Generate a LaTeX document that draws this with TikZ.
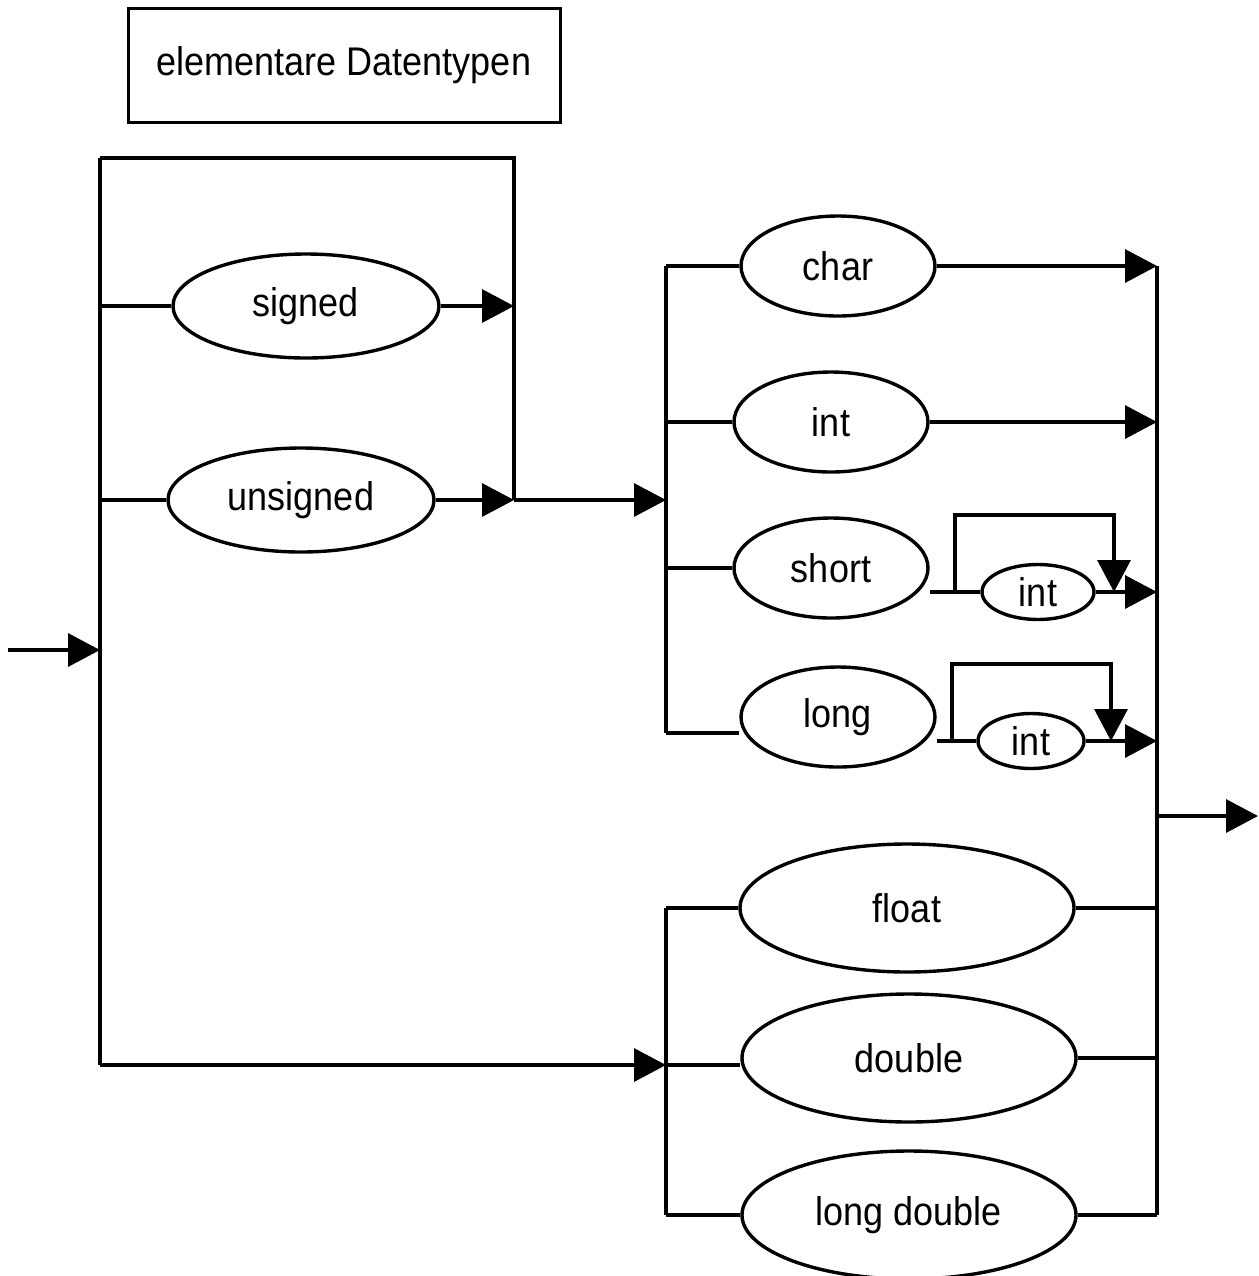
\documentclass[tikz,border=0pt]{standalone}
\usepackage{fontspec}
\setmainfont{Liberation Sans}[FakeStretch=0.9]
\usetikzlibrary{shapes.geometric,arrows.meta}
\newcommand{\diafont}{\fontsize{20}{24}\selectfont}

\begin{document}
\begin{tikzpicture}[x=0.5pt, y=-0.5pt, line width=1.7pt,
    term/.style={draw, ellipse, inner sep=0pt, font=\diafont},
    termL/.style={term, minimum width=133pt, minimum height=52pt},
    termM/.style={term, minimum width=97pt, minimum height=50pt},
    termS/.style={term, minimum width=56pt, minimum height=27.5pt},
    termW/.style={term, minimum width=167pt, minimum height=64pt},
    arr/.style={-{Triangle[length=16pt,width=16.5pt]}}]
  \useasboundingbox (0,0) rectangle (1259,1276);

  \node[draw, line width=1.5pt, minimum width=216pt, minimum height=57pt,
    font=\diafont] (title) at (344,65) {elementare Datentypen};

  % sign
  \node[termL] (signed) at (306,306) {signed};
  \node[termL] (unsigned) at (301,500) {unsigned};
  % integer types
  \node[termM] (char) at (838,266) {char};
  \node[termM] (int) at (831,422) {int};
  \node[termM] (short) at (831,568) {short};
  \node[termM] (long) at (838,717) {long};
  \node[termS] (sint) at (1038,592) {int};
  \node[termS, minimum width=53pt] (lint) at (1031,741) {int};
  % floating types
  \node[termW] (float) at (907,908) {float};
  \node[termW] (double) at (909,1058) {double};
  \node[termW] (ldouble) at (909,1215) {long double};

  \coordinate (start) at (8,650);
  \coordinate (a1) at (100,158);
  \coordinate (a2) at (100,1065);
  \coordinate (b1) at (514,158);
  \coordinate (b2) at (514,500);
  \coordinate (c1) at (666,266);
  \coordinate (c2) at (666,733);
  \coordinate (d1) at (666,908);
  \coordinate (d2) at (666,1215);
  \coordinate (e1) at (1157,266);
  \coordinate (e2) at (1157,1215);
  \coordinate (e3) at (1157,816);
  \coordinate (out) at (1258,816);
  \coordinate (s1) at (955,515);
  \coordinate (s2) at (1114,515);
  \coordinate (l1) at (952,664);
  \coordinate (l2) at (1111,664);

  \draw (a1) -- (a2);
  \draw[arr] (start) -- (start -| a1);
  \draw (a1) -- (b1) -- (b2);
  \draw (signed.west -| a1) -- (signed.west);
  \draw[arr] (signed.east) -- (signed.east -| b1);
  \draw (unsigned.west -| a1) -- (unsigned.west);
  \draw[arr] (unsigned.east) -- (b2);
  \draw[arr] (b2) -- (b2 -| c1);

  \draw (c1) -- (c2);
  \draw (c1) -- (char.west);
  \draw[arr] (char.east) -- (e1);
  \draw (int.west -| c1) -- (int.west);
  \draw[arr] (int.east) -- (int.east -| e1);
  \draw (short.west -| c1) -- (short.west);
  \draw (short.east |- sint.west) -- (sint.west);
  \draw[arr] (s1 |- sint.west) -- (s1) -- (s2) -- (s2 |- sint.east);
  \draw[arr] (sint.east) -- (sint.east -| e1);
  \draw (c2) -- (long.west |- c2);
  \draw (long.east |- lint.west) -- (lint.west);
  \draw[arr] (l1 |- lint.west) -- (l1) -- (l2) -- (l2 |- lint.east);
  \draw[arr] (lint.east) -- (lint.east -| e1);

  \draw (d1) -- (d2);
  \draw[arr] (a2) -- (a2 -| d1);
  \draw (d1) -- (float.west);
  \draw (a2 -| d1) -- (a2 -| double.west);
  \draw (d2) -- (ldouble.west);
  \draw (float.east) -- (float.east -| e1);
  \draw (double.east) -- (double.east -| e1);
  \draw (ldouble.east) -- (e2);

  \draw (e1) -- (e2);
  \draw[arr] (e3) -- (out);
\end{tikzpicture}
\end{document}
